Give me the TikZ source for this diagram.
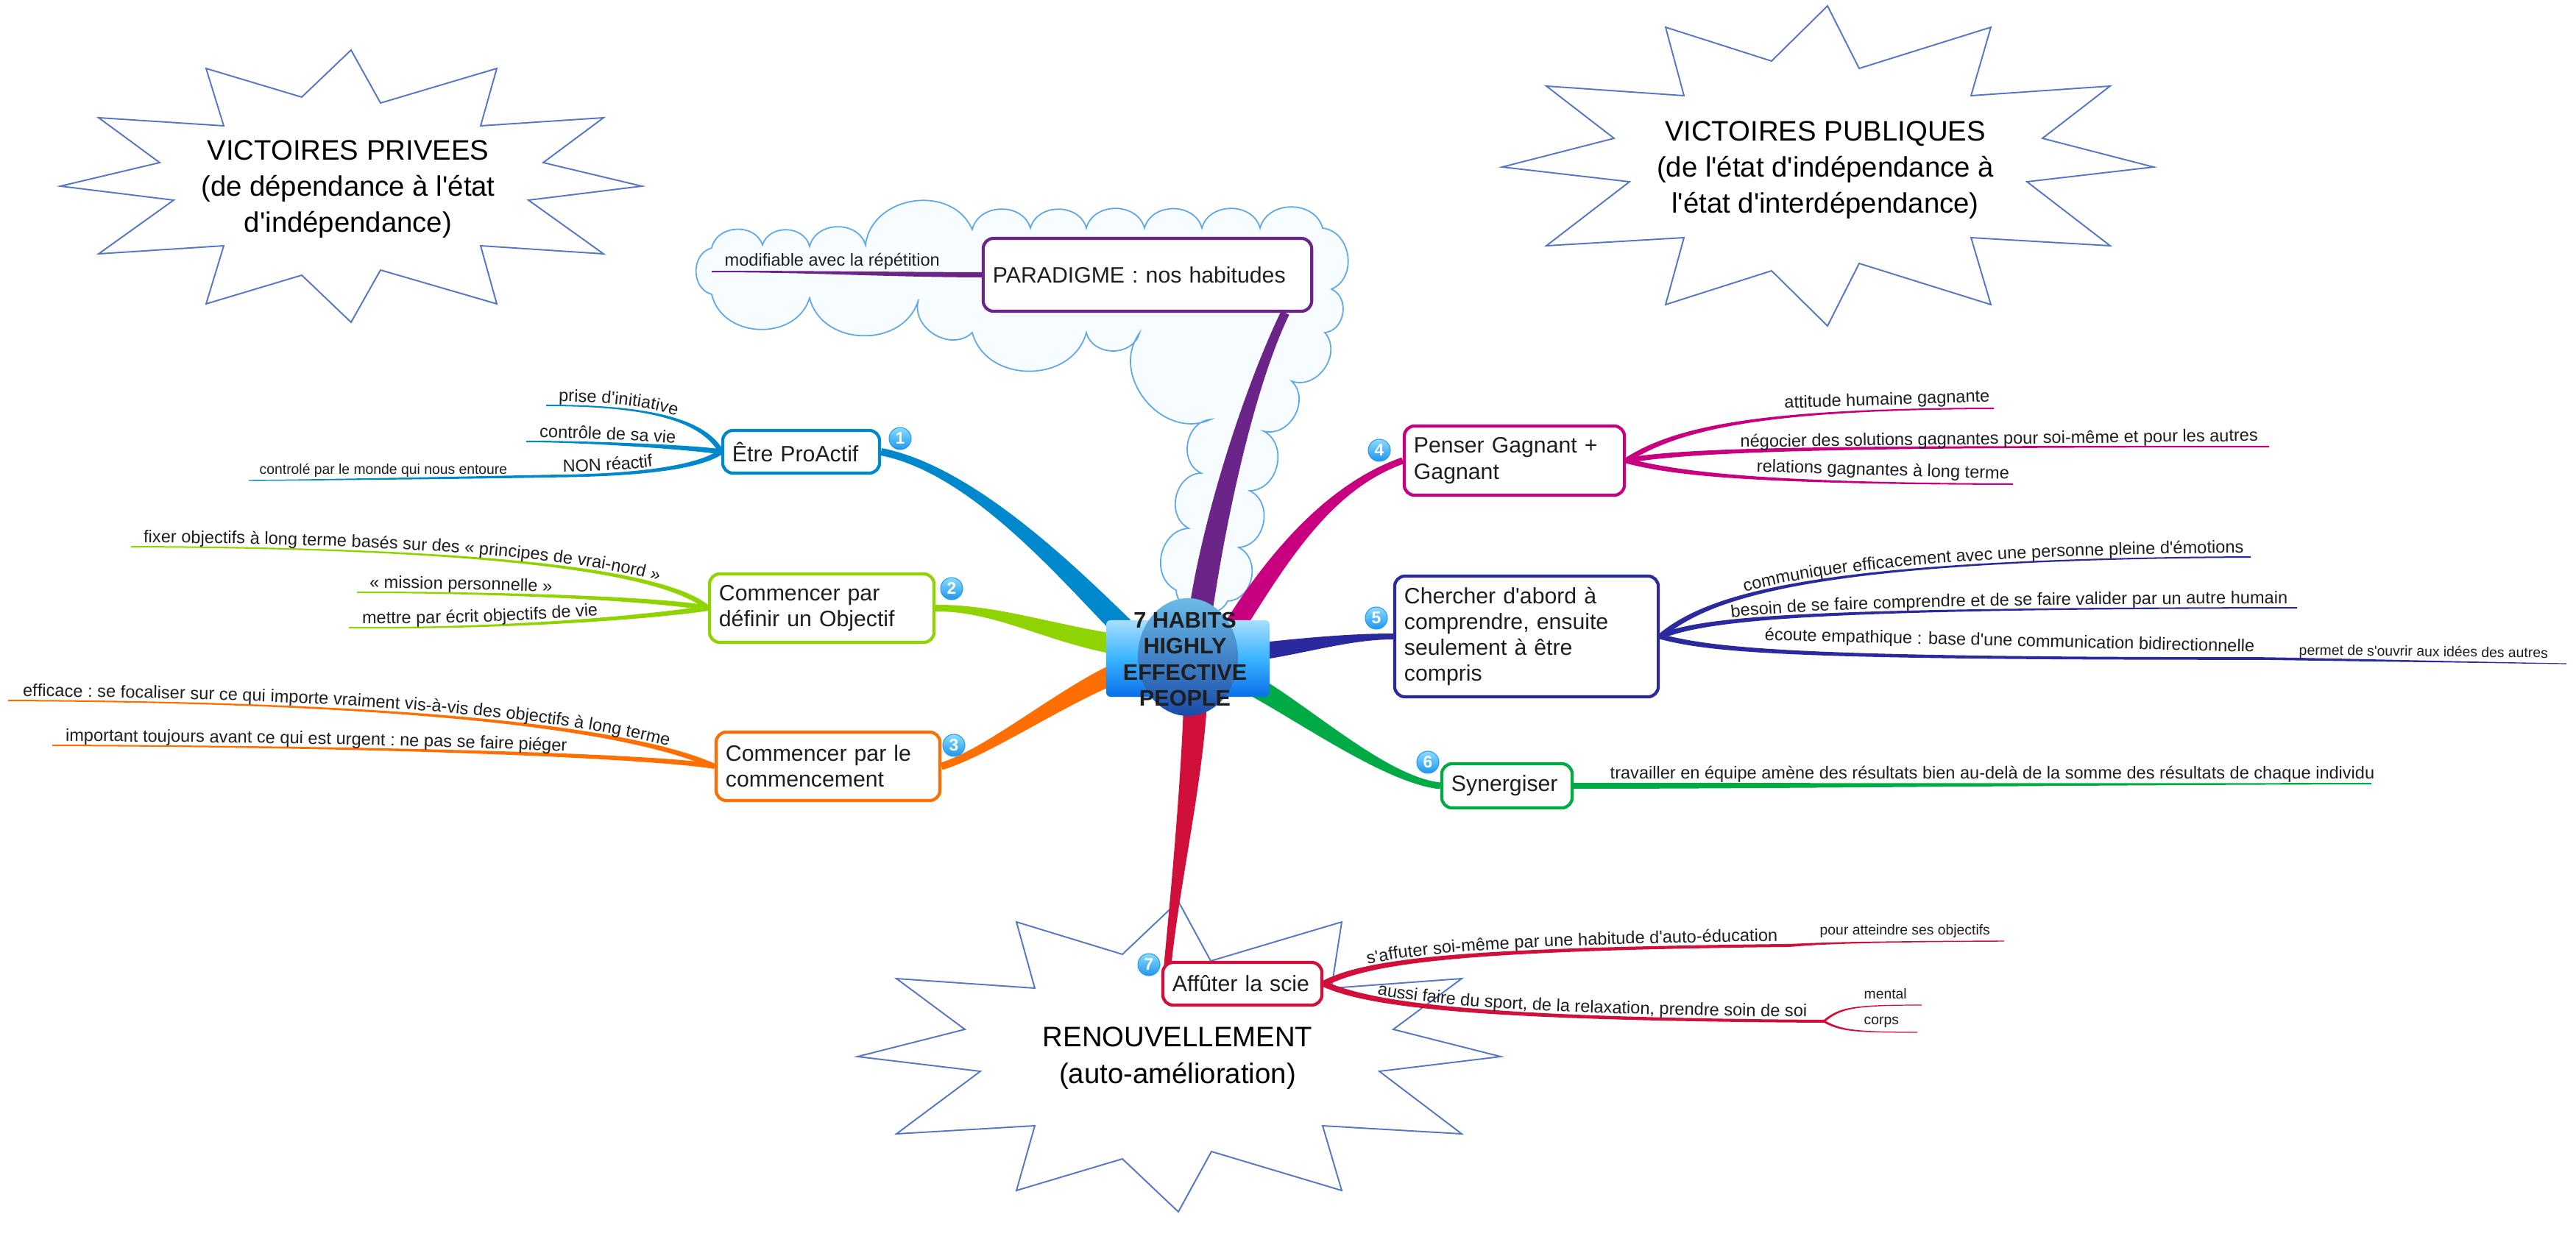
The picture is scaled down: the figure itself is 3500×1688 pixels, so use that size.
\documentclass[tikz,border=0pt]{standalone}
\usepackage{fontspec}
\setmainfont{Liberation Sans}[Ligatures=TeXOff]
\usetikzlibrary{calc,decorations.text}
\pgfdeclarelayer{bgg}
\pgfdeclarelayer{bg}
\pgfsetlayers{bgg,bg,main}

\definecolor{cBlue}{HTML}{0088CC}
\definecolor{cLime}{HTML}{8FD400}
\definecolor{cOrange}{HTML}{FF6E00}
\definecolor{cMag}{HTML}{C8007F}
\definecolor{cInd}{HTML}{2A2A9E}
\definecolor{cGreen}{HTML}{00AA44}
\definecolor{cRed}{HTML}{D0103A}
\definecolor{cPur}{HTML}{6B2487}
\definecolor{starc}{HTML}{5577C4}
\definecolor{cloudd}{HTML}{5EA8E8}
\definecolor{cloudf}{HTML}{F6FCFF}
\definecolor{txtc}{HTML}{1E1E1E}
\definecolor{ctop}{HTML}{A8DEFF}
\definecolor{cmid}{HTML}{3AB4FF}
\definecolor{cbot}{HTML}{0A6FEA}
\definecolor{hTop}{HTML}{6BBBE8}
\definecolor{hBot}{HTML}{1A4CA8}
\definecolor{bdTop}{HTML}{8ADCFF}
\definecolor{bdBot}{HTML}{1E96EE}
\definecolor{bdLine}{HTML}{2A9BE8}

\newcommand\boxf{\fontsize{8.6pt}{10pt}\selectfont}
\newcommand\sublbl{\fontsize{6.7pt}{8pt}\selectfont}
\newcommand\tinylbl{\fontsize{5.5pt}{6.5pt}\selectfont}
\newcommand\starf{\fontsize{10.9pt}{14pt}\selectfont}

\newcommand\taper[7]{%
  \coordinate (tS) at (#2);
  \coordinate (tA) at (#3);
  \coordinate (tB) at (#4);
  \coordinate (tE) at (#5);
  \coordinate (tS1) at ($(tS)!#6!90:(tA)$);
  \coordinate (tS2) at ($(tS)!#6!-90:(tA)$);
  \coordinate (tE1) at ($(tE)!#7!-90:(tB)$);
  \coordinate (tE2) at ($(tE)!#7!90:(tB)$);
  \fill[#1] (tS1) .. controls ($(tA)+(tS1)-(tS)$) and ($(tB)+(tE1)-(tE)$) .. (tE1)
     -- (tE2) .. controls ($(tB)+(tE2)-(tE)$) and ($(tA)+(tS2)-(tS)$) .. (tS2) -- cycle;}

\begin{document}
\begin{tikzpicture}[x=0.01cm,y=-0.01cm,
  topic/.style={draw=#1, line width=1.2pt, fill=white, rounded corners=0.14cm,
    font=\boxf, text=txtc, align=left, inner xsep=0.13cm, inner ysep=0pt},
  badge/.style={circle, minimum size=0.3cm, inner sep=0pt, top color=bdTop,
    bottom color=bdBot, draw=bdLine, line width=0.3pt, text=white,
    font=\bfseries\fontsize{6.5pt}{7pt}\selectfont},
  lbl/.style={font=\sublbl, text=txtc, inner sep=0pt},
  tlbl/.style={font=\tinylbl, text=txtc, inner sep=0pt},
  ctext/.style n args={3}{decorate, decoration={text along path,
    text={|\sublbl|#1}, text align={left indent=#2}, raise=#3, text color=txtc}},
  starline/.style={draw=starc, line width=0.55pt, line join=miter},
  startext/.style={font=\starf, align=center, text=black, inner sep=0pt},
  cb/.style={bend left=75, looseness=1.2},
  cloudline/.style={draw=cloudd, line width=0.5pt, fill=cloudf}
]
\useasboundingbox (0,0) rectangle (3500,1688);

% ---------- central node ----------
\node[rounded corners=0.06cm, minimum width=2.22cm, minimum height=1.04cm,
  top color=ctop, bottom color=cbot, middle color=cmid, inner sep=0pt] (c) at (1614,895) {};
\shade[top color=hTop, bottom color=hBot] (1614,893) ellipse [x radius=0.68cm, y radius=0.8cm];
\node[font=\bfseries\fontsize{8.7pt}{10pt}\selectfont, align=center, text=txtc, inner sep=0pt]
  (ctext) at (1610,896) {7 HABITS\\HIGHLY\\EFFECTIVE\\PEOPLE};

% ---------- topic nodes ----------
\node[topic=cPur, minimum width=4.46cm, minimum height=0.99cm, text width=4.2cm] (np) at (1559,373.5) {PARADIGME : nos habitudes};
\node[topic=cBlue, minimum width=2.13cm, minimum height=0.58cm, text width=1.87cm] (n1) at (1088.5,614) {Être ProActif};
\node[topic=cLime, minimum width=3.05cm, minimum height=0.93cm, text width=2.79cm] (n2) at (1116.5,826.5) {Commencer par\\définir un Objectif};
\node[topic=cOrange, minimum width=3.04cm, minimum height=0.93cm, text width=2.78cm] (n3) at (1125,1041.5) {Commencer par le\\commencement};
\node[topic=cMag, minimum width=2.99cm, minimum height=0.94cm, text width=2.73cm] (n4) at (2057.5,626) {Penser Gagnant +\\Gagnant};
\node[topic=cInd, minimum width=3.58cm, minimum height=1.64cm, text width=3.32cm] (n5) at (2074,865) {Chercher d'abord à\\comprendre, ensuite\\seulement à être\\compris};
\node[topic=cGreen, minimum width=1.77cm, minimum height=0.60cm, text width=1.51cm] (n6) at (2047.5,1068) {Synergiser};
\node[topic=cRed, minimum width=2.16cm, minimum height=0.58cm, text width=1.9cm] (n7) at (1688,1337) {Affûter la scie};

% ---------- badges ----------
\node[badge] (bd1) at (1223,596) {1};
\node[badge] (bd2) at (1293,800) {2};
\node[badge] (bd3) at (1296,1013) {3};
\node[badge] (bd4) at (1874,612) {4};
\node[badge] (bd5) at (1870,840) {5};
\node[badge] (bd6) at (1940,1036) {6};
\node[badge] (bd7) at (1561,1311) {7};

% ---------- free ends ----------
\coordinate (e1a) at (742,551);
\coordinate (e1b) at (715,600);
\coordinate (e1c) at (750,647);
\coordinate (e1d) at (338,653);
\coordinate (e2a) at (178,743);
\coordinate (e2b) at (485,805);
\coordinate (e2c) at (474,853);
\coordinate (e3a) at (11,952);
\coordinate (e3b) at (71,1013);
\coordinate (e4a) at (2709,555);
\coordinate (e4b) at (3083,607);
\coordinate (e4c) at (2735,658);
\coordinate (e5a) at (3058,757);
\coordinate (e5b) at (3121,826);
\coordinate (e5c) at (3074,895);
\coordinate (e5d) at (3487,902);
\coordinate (e6a) at (3222,1065);
\coordinate (e7a) at (2425,1285);
\coordinate (e7b) at (2723,1279);
\coordinate (e7c) at (2478,1388);
\coordinate (e7d) at (2611,1366);
\coordinate (e7e) at (2605,1403);
\coordinate (epa) at (967,369);

\coordinate (k1) at ($(c.center)+(-69,-23)$);
\coordinate (k2) at ($(c.center)+(-69,-15)$);
\coordinate (k3) at ($(c.center)+(-69,10)$);
\coordinate (k4) at ($(c.center)+(58,-35)$);
\coordinate (k5) at ($(c.center)+(76,-7)$);
\coordinate (k6) at ($(c.center)+(76,30)$);
\coordinate (k7) at ($(c.center)+(11,35)$);
\coordinate (kp) at ($(c.center)+(16,-55)$);

% ---------- labels (plain) ----------
\node[lbl, anchor=base west] (lpa) at (984,361) {modifiable avec la répétition};
\node[tlbl, anchor=base west] (l1d) at (352,644) {controlé par le monde qui nous entoure};
\node[lbl, anchor=base west, rotate=1.9] (l4a) at (2424,555) {attitude humaine gagnante};
\node[lbl, anchor=base west, rotate=0.7] (l4b) at (2364,608) {négocier des solutions gagnantes pour soi-même et pour les autres};
\node[lbl, anchor=base west, rotate=-1.7] (l4c) at (2386,641) {relations gagnantes à long terme};
\node[lbl, anchor=base west, rotate=-1.4] (l5c) at (2397,870) {écoute empathique : base d'une communication bidirectionnelle};
\node[tlbl, anchor=base west, rotate=-0.7] (l5d) at (3123,890) {permet de s'ouvrir aux idées des autres};
\node[lbl, anchor=base west] (l6a) at (2187,1058) {travailler en équipe amène des résultats bien au-delà de la somme des résultats de chaque individu};
\node[tlbl, anchor=base west] (l7b) at (2472,1270) {pour atteindre ses objectifs};
\node[tlbl, anchor=base west] (l7d) at (2532,1357) {mental};
\node[tlbl, anchor=base west] (l7e) at (2532,1392) {corps};

% ---------- labels along paths ----------
\path[ctext={prise d'initiative}{0.17cm}{0.055cm}] (e1a) .. controls (880,551) and (955,570) .. (n1.west);
\path[ctext={contrôle de sa vie}{0.18cm}{0.055cm}] (e1b) .. controls (800,600) and (940,608) .. (n1.west);
\path[ctext={NON réactif}{0.15cm}{0.055cm}] (e1c) .. controls (870,646) and (950,635) .. (n1.west);
\path[ctext={fixer objectifs à long terme basés sur des « principes de vrai-nord »}{0.17cm}{0.055cm}] (e2a) .. controls (760,745) and (920,790) .. (n2.west);
\path[ctext={« mission personnelle »}{0.17cm}{0.055cm}] (e2b) .. controls (700,805) and (900,815) .. (n2.west);
\path[ctext={mettre par écrit objectifs de vie}{0.18cm}{0.055cm}] (e2c) .. controls (720,855) and (910,835) .. (n2.west);
\path[ctext={efficace : se focaliser sur ce qui importe vraiment vis-à-vis des objectifs à long terme}{0.2cm}{0.055cm}] (e3a) .. controls (700,955) and (900,1010) .. (n3.west);
\path[ctext={important toujours avant ce qui est urgent : ne pas se faire piéger}{0.18cm}{0.055cm}] (e3b) .. controls (600,1015) and (900,1030) .. (n3.west);
\path[ctext={communiquer efficacement avec une personne pleine d'émotions}{1.3cm}{0.055cm}] (n5.east) .. controls (2320,812) and (2450,760) .. (e5a) -- ++(80,0);
\path[ctext={besoin de se faire comprendre et de se faire valider par un autre humain}{1.0cm}{0.055cm}] (n5.east) .. controls (2320,840) and (2450,827) .. (e5b) -- ++(80,0);
\path[ctext={s'affuter soi-même par une habitude d'auto-éducation}{0.65cm}{0.06cm}] (n7.east) .. controls (1860,1305) and (1990,1290) .. (e7a) -- ++(80,0);
\path[ctext={aussi faire du sport, de la relaxation, prendre soin de soi}{0.75cm}{0.06cm}] (n7.east) .. controls (1860,1365) and (2000,1385) .. (e7c) -- ++(80,0);

% ---------- branches ----------
\begin{pgfonlayer}{bg}
% main branches
\taper{cPur}{kp}{1650,700}{1700,520}{$(np.south east)+(-38,0)$}{0.16cm}{0.06cm}
\taper{cBlue}{k1}{1470,800}{1330,640}{n1.east}{0.15cm}{0.05cm}
\taper{cLime}{k2}{1430,865}{1360,826}{n2.east}{0.14cm}{0.045cm}
\taper{cOrange}{k3}{1470,925}{1350,1020}{n3.east}{0.14cm}{0.05cm}
\taper{cMag}{k4}{1740,750}{1810,660}{n4.west}{0.14cm}{0.045cm}
\taper{cInd}{k5}{1760,880}{1830,865}{n5.west}{0.12cm}{0.04cm}
\taper{cGreen}{k6}{1760,960}{1880,1060}{n6.west}{0.14cm}{0.045cm}
\taper{cRed}{k7}{1622,1050}{1597,1200}{$(n7.north west)+(8,12)$}{0.16cm}{0.05cm}
% paradigme
\taper{cPur}{np.west}{1200,373}{1100,369}{epa}{0.035cm}{0.01cm}
% branch 1
\taper{cBlue}{n1.west}{955,570}{880,551}{e1a}{0.035cm}{0.01cm}
\taper{cBlue}{n1.west}{940,608}{800,600}{e1b}{0.035cm}{0.01cm}
\taper{cBlue}{n1.west}{950,635}{870,646}{e1c}{0.035cm}{0.018cm}
\taper{cBlue}{e1c}{650,649}{450,652}{e1d}{0.018cm}{0.007cm}
% branch 2
\taper{cLime}{n2.west}{920,790}{760,745}{e2a}{0.035cm}{0.01cm}
\taper{cLime}{n2.west}{900,815}{700,805}{e2b}{0.035cm}{0.01cm}
\taper{cLime}{n2.west}{910,835}{720,855}{e2c}{0.035cm}{0.01cm}
% branch 3
\taper{cOrange}{n3.west}{900,1010}{700,955}{e3a}{0.035cm}{0.01cm}
\taper{cOrange}{n3.west}{900,1030}{600,1015}{e3b}{0.035cm}{0.01cm}
% branch 4
\taper{cMag}{n4.east}{2280,580}{2400,556}{e4a}{0.035cm}{0.01cm}
\taper{cMag}{n4.east}{2300,610}{2500,607}{e4b}{0.035cm}{0.01cm}
\taper{cMag}{n4.east}{2280,645}{2400,657}{e4c}{0.035cm}{0.01cm}
% branch 5
\taper{cInd}{n5.east}{2320,812}{2450,760}{e5a}{0.035cm}{0.01cm}
\taper{cInd}{n5.east}{2320,840}{2450,827}{e5b}{0.035cm}{0.01cm}
\taper{cInd}{n5.east}{2330,885}{2450,895}{e5c}{0.035cm}{0.018cm}
\taper{cInd}{e5c}{3200,897}{3350,900}{e5d}{0.018cm}{0.006cm}
% branch 6
\taper{cGreen}{n6.east}{2400,1068}{2800,1066}{e6a}{0.04cm}{0.01cm}
% branch 7
\taper{cRed}{n7.east}{1860,1305}{1990,1290}{e7a}{0.04cm}{0.02cm}
\taper{cRed}{e7a}{2450,1285}{2450,1280}{e7b}{0.02cm}{0.007cm}
\taper{cRed}{n7.east}{1860,1365}{2000,1385}{e7c}{0.04cm}{0.02cm}
\taper{cRed}{e7c}{2500,1370}{2515,1366}{e7d}{0.015cm}{0.006cm}
\taper{cRed}{e7c}{2500,1400}{2515,1403}{e7e}{0.015cm}{0.006cm}
\end{pgfonlayer}

% ---------- background: stars and cloud ----------
\begin{pgfonlayer}{bgg}
\fill[white] (0,0) rectangle (3500,1688);
\draw[starline] (477,68) -- (517,140) -- (675,93) -- (653,171) -- (820,160) -- (738,221) -- (872,253) -- (718,272) -- (820,345) -- (653,334) -- (675,413) -- (517,367) -- (477,438) -- (410,374) -- (280,413) -- (304,334) -- (134,345) -- (236,272) -- (82,253) -- (217,221) -- (134,160) -- (304,171) -- (280,93) -- (410,132) -- cycle;
\draw[starline] (2483,8) -- (2526,93) -- (2705,37) -- (2678,130) -- (2867,117) -- (2775,188) -- (2926,227) -- (2754,247) -- (2867,334) -- (2678,323) -- (2705,414) -- (2526,358) -- (2483,443) -- (2407,368) -- (2263,414) -- (2288,323) -- (2101,334) -- (2214,247) -- (2041,227) -- (2193,188) -- (2101,117) -- (2288,130) -- (2263,37) -- (2407,83) -- cycle;
\draw[starline] (1601,1225) -- (1645,1306) -- (1823,1253) -- (1809,1343) -- (1986,1330) -- (1893,1399) -- (2039,1436) -- (1874,1456) -- (1986,1541) -- (1797,1530) -- (1823,1618) -- (1646,1565) -- (1601,1647) -- (1525,1575) -- (1381,1618) -- (1406,1530) -- (1218,1541) -- (1332,1456) -- (1165,1436) -- (1311,1399) -- (1218,1330) -- (1406,1343) -- (1381,1253) -- (1525,1297) -- cycle;
\draw[cloudline] (967,400) to[cb] (967,337) to[cb] (1036,333) to[cb] (1100,335) to[cb] (1176,333) to[cb] (1321,312) to[cb] (1400,310) to[cb] (1476,310) to[cb] (1555,310) to[cb] (1633,310) to[cb] (1712,310) to[cb] (1797,310) to[cb] (1809,393) to[cb] (1800,452) to[cb] (1755,518) to[cb] (1717,586) to[cb] (1698,667) to[cb] (1683,744) to[cb] (1668,817) to[cb] (1598,802) to[cb] (1615,718) to[cb] (1632,643) to[cb] (1645,570) to[cb] (1548,453) to[cb] (1476,452) to[cb] (1321,452) to[cb] (1248,407) to[cb] (1100,405) to[cb] (967,400) -- cycle;
\end{pgfonlayer}

% ---------- star texts ----------
\node[startext] (vpriv) at (473,257) {VICTOIRES PRIVEES\\(de dépendance à l'état\\d'indépendance)};
\node[startext] (vpub) at (2480,231) {VICTOIRES PUBLIQUES\\(de l'état d'indépendance à\\l'état d'interdépendance)};
\node[startext] (renouv) at (1600,1438) {RENOUVELLEMENT\\(auto-amélioration)};
\end{tikzpicture}
\end{document}
